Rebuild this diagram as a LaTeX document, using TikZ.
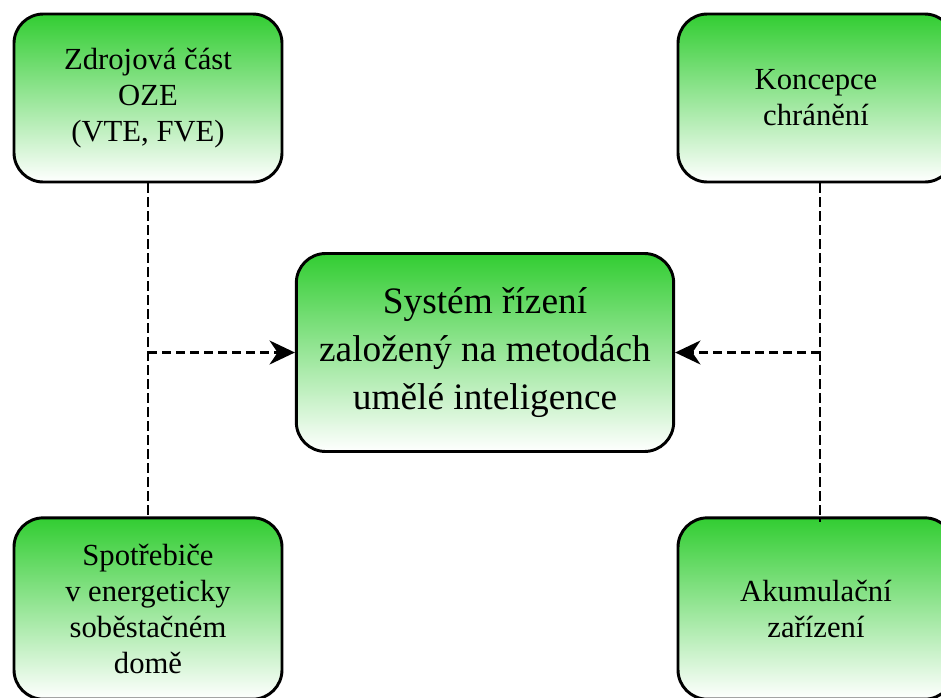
\documentclass[tikz,border=0pt]{standalone}
\usepackage{fontspec}
\setmainfont{Liberation Serif}
\usetikzlibrary{arrows.meta}
\definecolor{leafgreen}{RGB}{50,205,50}
\tikzset{
  block/.style={draw=black, line width=2.2pt, rounded corners=22pt,
    top color=leafgreen, bottom color=white, align=center, inner sep=0pt,
    font=\fontsize{23}{27}\selectfont},
  bigblock/.style={block, font=\fontsize{28}{36}\selectfont},
  link/.style={line width=1.6pt, dash pattern=on 7pt off 3.5pt},
  arrowlink/.style={link, -{Stealth[length=19pt,width=18pt,inset=6pt]}},
}
\begin{document}
\begin{tikzpicture}[x=0.75pt,y=-0.75pt]
\useasboundingbox (0,0) rectangle (941,697);

% outer blocks
\node[block, minimum width=201pt, minimum height=126pt] (src) at (148,98)
  {Zdrojová část\\OZE\\(VTE, FVE)};
\node[block, minimum width=207pt, minimum height=126pt] (conc) at (816,98)
  {Koncepce\\chránění};
\node[block, minimum width=201pt, minimum height=136pt] (load) at (148,608.5)
  {Spotřebiče\\v energeticky\\soběstačném\\domě};
\node[block, minimum width=207pt, minimum height=136pt] (acc) at (816,608.5)
  {Akumulační\\zařízení};

% central control system
\node[bigblock, minimum width=283pt, minimum height=148.5pt] (sys) at (485,352.5)
  {Systém řízení\\založený na metodách\\umělé inteligence};

% left bus
\draw[link] (src.south) -- (load.north);
\draw[arrowlink] (src.south |- sys.west) -- (sys.west);

% right bus
\coordinate (rtop) at ([xshift=3pt]conc.south);
\coordinate (rbot) at (rtop |- acc.north);
\draw[link] (rtop) -- ([yshift=-4pt]rbot);
\draw[arrowlink] (rtop |- sys.east) -- (sys.east);
\end{tikzpicture}
\end{document}
